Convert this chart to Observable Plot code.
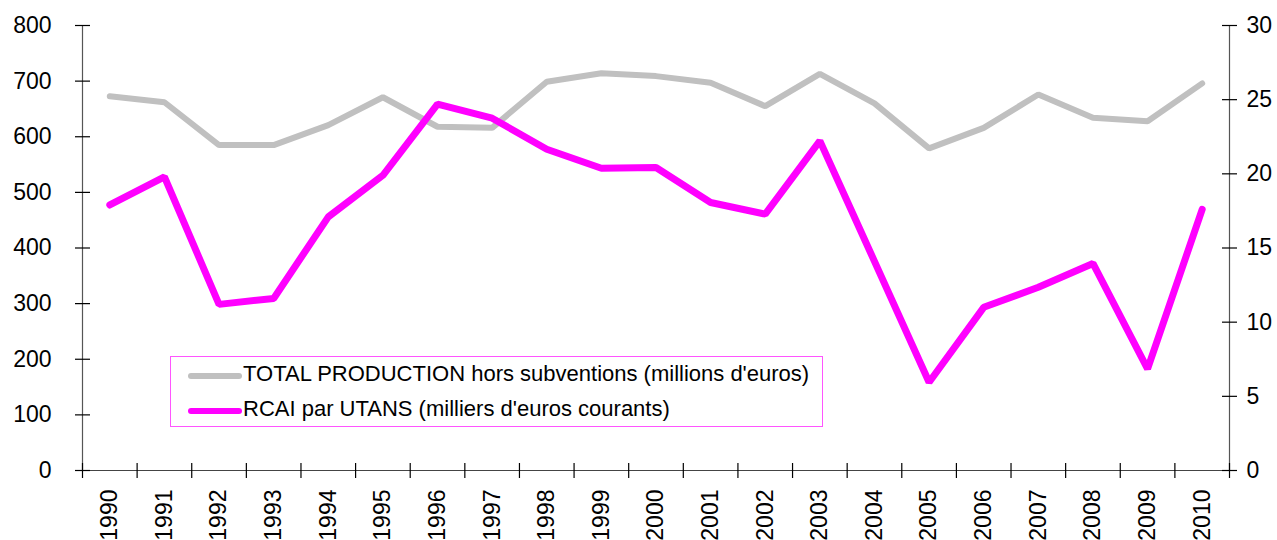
<!DOCTYPE html>
<html>
<head>
<meta charset="utf-8">
<script src="https://cdn.jsdelivr.net/npm/d3@7"></script>
<script src="https://cdn.jsdelivr.net/npm/@observablehq/plot@0.6"></script>
<style>
  body { margin: 0; background: #fff; }
  #wrap { position: relative; width: 1277px; height: 540px; font-family: "Liberation Sans", Arial, Helvetica, sans-serif; }
  #legend { position: absolute; left: 170px; top: 356px; width: 651px; height: 69px; border: 1px solid #ff55ff; background: #fff; }
  #legend .sw { position: absolute; left: 16px; width: 56px; height: 10px; }
  #legend .lb { position: absolute; left: 72px; font-size: 22px; line-height: 25px; color: #000; white-space: nowrap; }
</style>
</head>
<body>
<div id="wrap"></div>
<script>
const years = [1990, 1991, 1992, 1993, 1994, 1995, 1996, 1997, 1998, 1999, 2000,
               2001, 2002, 2003, 2004, 2005, 2006, 2007, 2008, 2009, 2010];
// TOTAL PRODUCTION hors subventions (millions d'euros) - left axis
const production = [673, 662, 585, 585, 621, 671, 618, 616, 699, 714, 709,
                    697, 655, 713, 660, 579, 616, 676, 634, 628, 696];
// RCAI par UTANS (milliers d'euros courants) - right axis
const rcai = [17.9, 19.8, 11.2, 11.6, 17.1, 19.9, 24.7, 23.75, 21.66, 20.38, 20.43,
              18.07, 17.28, 22.22, 14.1, 5.95, 11.0, 12.35, 13.96, 6.85, 17.6];
const leftTicks = [0, 100, 200, 300, 400, 500, 600, 700, 800];
const rightTicks = [0, 5, 10, 15, 20, 25, 30];
const seriesNames = ["TOTAL PRODUCTION hors subventions (millions d'euros)",
                     "RCAI par UTANS (milliers d'euros courants)"];
const seriesColors = ["#c0c0c0", "#ff00ff"];

const leftMax = 800, rightMax = 30;
const toLeft = v => v * leftMax / rightMax;

const data = years.map((y, i) => ({year: y, production: production[i], rcai: rcai[i]}));
const xMin = years[0] - 0.5, xMax = years[years.length - 1] + 0.5;
const boundaries = years.map(y => y - 0.5).concat([xMax]);

const chart = Plot.plot({
  width: 1277,
  height: 540,
  marginTop: 25,
  marginBottom: 70,
  marginLeft: 82,
  marginRight: 48,
  style: {fontFamily: '"Liberation Sans", Arial, Helvetica, sans-serif', fontSize: "23px", color: "#000", background: "#fff"},
  x: {type: "linear", domain: [xMin, xMax]},
  y: {domain: [0, leftMax]},
  marks: [
    // axis labels
    Plot.axisY(leftTicks, {anchor: "left", tickSize: 0, tickPadding: 31, fontSize: 23, tickFormat: d => String(d), label: null}),
    Plot.axisY(rightTicks.map(toLeft), {anchor: "right", tickSize: 0, tickPadding: 17, fontSize: 23,
      tickFormat: d => String(Math.round(d * rightMax / leftMax)), label: null}),
    Plot.axisX(years, {anchor: "bottom", tickSize: 0, tickPadding: 19, tickRotate: -90, fontSize: 23,
      tickFormat: d => String(d), label: null}),
    // axis lines
    Plot.ruleX([xMin, xMax], {y1: 0, y2: leftMax, stroke: "#555", strokeWidth: 1.2}),
    Plot.ruleY([0], {x1: xMin, x2: xMax, stroke: "#444", strokeWidth: 1.2}),
    // crossing tick marks
    Plot.ruleX(boundaries, {x: d => d, y1: 0, y2: 0, insetTop: -7, insetBottom: -8, stroke: "#000", strokeWidth: 1.2}),
    Plot.ruleY(leftTicks, {y: d => d, x1: xMin, x2: xMin, insetLeft: -7, insetRight: -8, stroke: "#000", strokeWidth: 1.2}),
    Plot.ruleY(rightTicks.map(toLeft), {y: d => d, x1: xMax, x2: xMax, insetLeft: -7, insetRight: -8, stroke: "#000", strokeWidth: 1.2}),
    // series
    Plot.lineY(data, {x: "year", y: "production", stroke: seriesColors[0], strokeWidth: 6,
      strokeLinecap: "round", strokeLinejoin: "miter"}),
    Plot.lineY(data, {x: "year", y: d => toLeft(d.rcai), stroke: seriesColors[1], strokeWidth: 7,
      strokeLinecap: "round", strokeLinejoin: "miter"})
  ]
});

const wrap = document.getElementById("wrap");
wrap.appendChild(chart);

// legend overlay
const legend = document.createElement("div");
legend.id = "legend";
const rowTops = [4, 39];
seriesNames.forEach((name, i) => {
  const sw = document.createElementNS("http://www.w3.org/2000/svg", "svg");
  sw.setAttribute("class", "sw");
  sw.setAttribute("width", 56);
  sw.setAttribute("height", 10);
  sw.style.top = (rowTops[i] + 9.5) + "px";
  const ln = document.createElementNS("http://www.w3.org/2000/svg", "line");
  ln.setAttribute("x1", 4); ln.setAttribute("x2", 52);
  ln.setAttribute("y1", 5); ln.setAttribute("y2", 5);
  ln.setAttribute("stroke", seriesColors[i]);
  ln.setAttribute("stroke-width", 6);
  ln.setAttribute("stroke-linecap", "round");
  sw.appendChild(ln);
  legend.appendChild(sw);
  const lb = document.createElement("div");
  lb.className = "lb";
  lb.style.top = rowTops[i] + "px";
  lb.textContent = name;
  legend.appendChild(lb);
});
wrap.appendChild(legend);
</script>
</body>
</html>
